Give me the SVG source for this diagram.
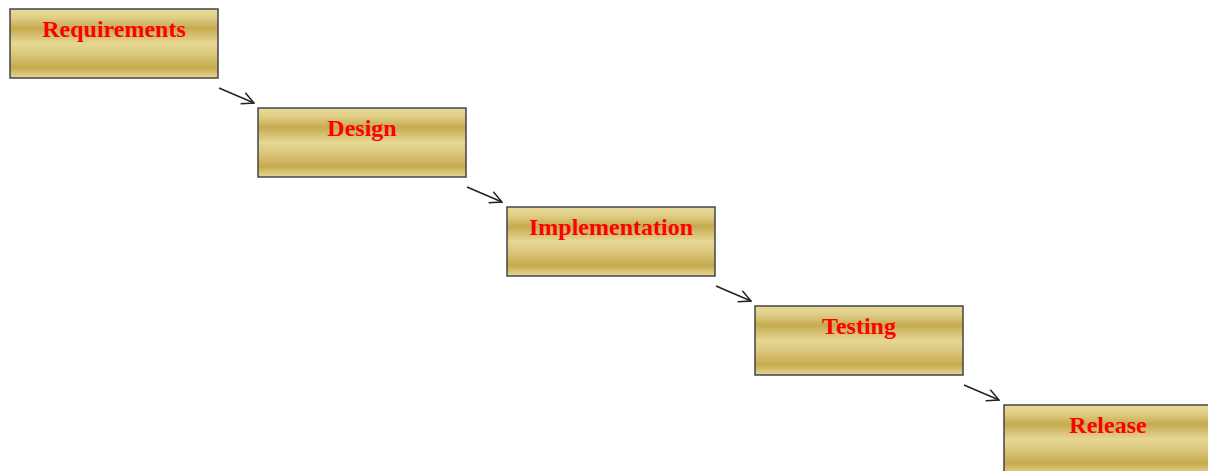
<svg xmlns="http://www.w3.org/2000/svg" width="1208" height="471" viewBox="0 0 1208 471">
<style>
.box{fill:url(#gold);stroke:#444;stroke-width:1.5}
.lbl{font-family:"Liberation Serif",serif;font-weight:bold;font-size:24px;fill:#ff0000;text-anchor:middle}
.conn{stroke:#222;stroke-width:1.5;fill:none;marker-end:url(#arr)}
</style>
<defs>
<linearGradient id="gold" x1="0" y1="0" x2="0" y2="1">
<stop offset="0" stop-color="#e8da9a"/>
<stop offset="0.12" stop-color="#e0cf88"/>
<stop offset="0.28" stop-color="#c6aa50"/>
<stop offset="0.5" stop-color="#e6d794"/>
<stop offset="0.65" stop-color="#dbc77e"/>
<stop offset="0.85" stop-color="#c6aa4e"/>
<stop offset="1" stop-color="#e6d796"/>
</linearGradient>
<marker id="arr" viewBox="0 0 14 14" refX="13" refY="7" markerWidth="14" markerHeight="14" markerUnits="userSpaceOnUse" orient="auto">
<path d="M1,1 L13,7 L1,13" fill="none" stroke="#222" stroke-width="1.5"/>
</marker>
</defs>
<g id="connectors">
<line class="conn" x1="219" y1="88" x2="254" y2="103"/>
<line class="conn" x1="467" y1="187" x2="502" y2="202"/>
<line class="conn" x1="716" y1="286" x2="751" y2="301"/>
<line class="conn" x1="964" y1="385" x2="999" y2="400"/>
</g>
<g id="requirements"><rect class="box" x="10" y="9" width="208" height="69"/><text class="lbl" x="114" y="37">Requirements</text></g>
<g id="design"><rect class="box" x="258" y="108" width="208" height="69"/><text class="lbl" x="362" y="136">Design</text></g>
<g id="implementation"><rect class="box" x="507" y="207" width="208" height="69"/><text class="lbl" x="611" y="235">Implementation</text></g>
<g id="testing"><rect class="box" x="755" y="306" width="208" height="69"/><text class="lbl" x="859" y="334">Testing</text></g>
<g id="release"><rect class="box" x="1004" y="405" width="208" height="69"/><text class="lbl" x="1108" y="433">Release</text></g>
</svg>
